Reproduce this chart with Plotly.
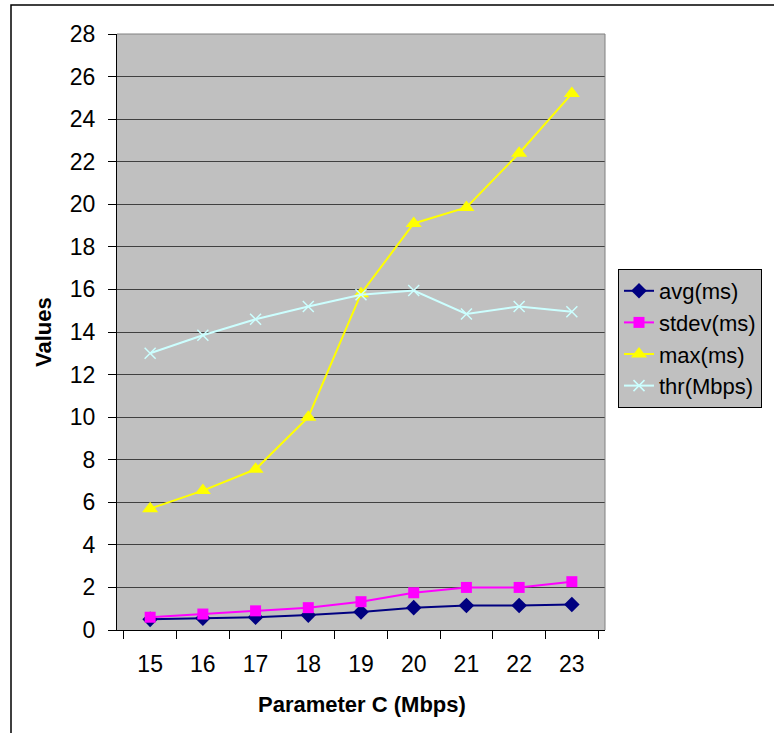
import plotly.graph_objects as go

categories = ["15", "16", "17", "18", "19", "20", "21", "22", "23"]
avg_ms = [0.5, 0.55, 0.6, 0.7, 0.85, 1.05, 1.15, 1.15, 1.2]
stdev_ms = [0.6, 0.75, 0.9, 1.05, 1.33, 1.75, 2.0, 2.0, 2.27]
max_ms = [5.7, 6.55, 7.55, 10.0, 15.8, 19.1, 19.85, 22.4, 25.2]
thr_mbps = [13.0, 13.85, 14.6, 15.2, 15.75, 15.95, 14.85, 15.2, 14.95]
y_ticks = list(range(0, 29, 2))

FONT = "Liberation Sans, Arial, sans-serif"
FS = 23

fig = go.Figure()
fig.add_trace(go.Scatter(x=categories, y=avg_ms, name="avg(ms)", mode="lines+markers",
                         line=dict(color="#000080", width=2),
                         marker=dict(symbol="diamond", size=12, color="#000080")))
fig.add_trace(go.Scatter(x=categories, y=stdev_ms, name="stdev(ms)", mode="lines+markers",
                         line=dict(color="#FF00FF", width=2),
                         marker=dict(symbol="square", size=11, color="#FF00FF")))
fig.add_trace(go.Scatter(x=categories, y=max_ms, name="max(ms)", mode="lines+markers",
                         line=dict(color="#FFFF00", width=2),
                         marker=dict(symbol="triangle-up", size=14, color="#FFFF00")))
fig.add_trace(go.Scatter(x=categories, y=thr_mbps, name="thr(Mbps)", mode="lines+markers",
                         line=dict(color="#CCFFFF", width=2),
                         marker=dict(symbol="x-thin", size=11,
                                     line=dict(color="#CCFFFF", width=1.5))))

W, H = 774, 733
L, R, T, B = 117, 605, 34, 630
pw, ph = R - L, B - T


def px(x):
    return (x - L) / pw


def py(y):
    return (B - y) / ph


fig.update_layout(
    width=W, height=H,
    margin=dict(l=L, r=W - R, t=T, b=H - B),
    paper_bgcolor="white",
    plot_bgcolor="#C0C0C0",
    font=dict(family=FONT, size=FS, color="black"),
    showlegend=True,
    legend=dict(x=px(618), y=py(269), xanchor="left", yanchor="top",
                bgcolor="#C0C0C0", bordercolor="black", borderwidth=1,
                font=dict(family=FONT, size=FS - 1, color="black"),
                itemwidth=30),
)
fig.update_xaxes(type="category", tickson="boundaries", ticks="outside", ticklen=8,
                 tickcolor="black", showline=True, linecolor="black", linewidth=1,
                 showgrid=False, zeroline=False, ticklabelstandoff=13,
                 tickfont=dict(family=FONT, size=FS))
fig.update_yaxes(range=[0, 28], tickvals=y_ticks, ticks="outside", ticklen=8,
                 tickcolor="black", showline=True, linecolor="black", linewidth=1,
                 showgrid=True, gridcolor="#404040", gridwidth=1, zeroline=False,
                 ticklabelstandoff=8, tickfont=dict(family=FONT, size=FS))

# plot-area border (top and right, gray)
fig.add_shape(type="line", xref="paper", yref="paper", x0=0, x1=1, y0=1, y1=1,
              line=dict(color="#808080", width=1))
fig.add_shape(type="line", xref="paper", yref="paper", x0=1, x1=1, y0=0, y1=1,
              line=dict(color="#808080", width=1))
# outer chart border
fig.add_shape(type="rect", xref="paper", yref="paper",
              x0=px(11), x1=px(800), y0=py(760), y1=py(5),
              line=dict(color="black", width=1.5))

fig.add_annotation(text="<b>Values</b>", xref="paper", yref="paper",
                   x=px(43), y=0.5, xanchor="center", yanchor="middle",
                   textangle=-90, showarrow=False,
                   font=dict(family=FONT, size=FS - 1))
fig.add_annotation(text="<b>Parameter C (Mbps)</b>", xref="paper", yref="paper",
                   x=px(362), y=py(705), xanchor="center", yanchor="middle",
                   showarrow=False, font=dict(family=FONT, size=FS - 1))

fig.write_html("out.html",
               config={"displayModeBar": False},
               post_script="document.body.style.margin='0';document.body.style.overflow='hidden';")
